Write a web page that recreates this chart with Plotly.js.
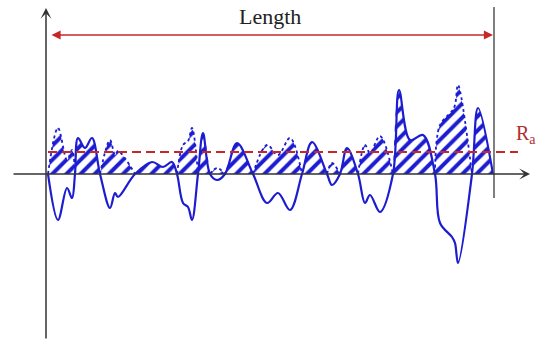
<!DOCTYPE html>
<html>
<head>
<meta charset="utf-8">
<script src="https://cdn.plot.ly/plotly-3.0.1.min.js"></script>
<style>html,body{margin:0;padding:0;background:#fff;}#chart{width:544px;height:343px;}</style>
</head>
<body>
<div id="chart"></div>
<script>
// Profile positions along the sampling length and profile heights (relative to mean line)
const posX = [0,10,19,24,27,30,37,44,52,62,67,70,87,104,115,124,129,135,140,144,150,155,162,169,177,189,205,219,230,242,254,264,279,284,292,299,310,317,322,332,345,351,362,375,387,392,404,407,410,424,430,445];
const height = [0,-46,-14,-24,0,36,26,36,0,-34,-19,-23,0,12,7,12,0,-29,-33,-46,0,41,0,-6,0,31,0,-29,-19,-36,0,32,0,-11,0,26,0,-29,-21,-38,0,84,34,39,0,-49,-63,-69,-89,0,66,0];
const raLevel = 22;          // arithmetic mean roughness level
const lengthStart = 0, lengthEnd = 445;
const labels = {length: 'Length', ra: 'R<sub>a</sub>'};

const BLUE = '#1c1cd0';
const RED = '#c62828';
const AX = '#333333';
const SERIF = '"Liberation Serif", serif';

// split profile into segments between zero crossings
const segs = [];
let cur = [];
for (let i = 0; i < posX.length; i++) {
  cur.push(i);
  if (height[i] === 0 && cur.length > 1) { segs.push(cur); cur = [i]; }
}
const fillX = [], fillY = [], dotX = [], dotY = [];
segs.forEach(s => {
  const neg = s.some(i => height[i] < 0);
  s.forEach(i => { fillX.push(posX[i]); fillY.push(Math.abs(height[i])); });
  fillX.push(null); fillY.push(null);
  if (neg) {
    s.forEach(i => { dotX.push(posX[i]); dotY.push(-height[i]); });
    dotX.push(null); dotY.push(null);
  }
});

const traces = [
  {x: fillX, y: fillY, type: 'scatter', mode: 'lines', fill: 'tozeroy',
   line: {width: 0, shape: 'spline', color: BLUE}, connectgaps: false,
   fillcolor: 'rgba(255,255,255,0)',
   fillpattern: {shape: '/', fgcolor: BLUE, bgcolor: 'rgba(255,255,255,0)', size: 10, solidity: 0.4},
   hoverinfo: 'skip'},
  {x: dotX, y: dotY, type: 'scatter', mode: 'lines', connectgaps: false,
   line: {width: 1.8, shape: 'spline', color: BLUE, dash: 'dot'}, hoverinfo: 'skip'},
  {x: posX, y: height, type: 'scatter', mode: 'lines',
   line: {width: 2.2, shape: 'spline', color: BLUE}, hoverinfo: 'skip'}
];

const layout = {
  width: 544, height: 343,
  margin: {l: 0, r: 0, t: 0, b: 0},
  paper_bgcolor: '#fff', plot_bgcolor: '#fff',
  showlegend: false,
  xaxis: {range: [-48, 496], visible: false, fixedrange: true},
  yaxis: {range: [-169, 174], visible: false, fixedrange: true},
  shapes: [
    // right boundary of sampling length
    {type: 'line', xref: 'x', yref: 'y', x0: lengthEnd + 1, x1: lengthEnd + 1, y0: -24, y1: 167,
     line: {color: '#555', width: 1.5}},
    // Ra dashed line
    {type: 'line', xref: 'x', yref: 'y', x0: lengthStart, x1: 470, y0: raLevel, y1: raLevel,
     line: {color: RED, width: 2, dash: '9px,5px'}}
  ],
  annotations: [
    // vertical axis
    {x: -2, y: 166, ax: -2, ay: -166, xref: 'x', yref: 'y', axref: 'x', ayref: 'y',
     text: '', showarrow: true, arrowhead: 3, arrowsize: 1.2, arrowwidth: 1.5, arrowcolor: AX, standoff: 0},
    // horizontal axis
    {x: 482, y: 0, ax: -36, ay: 0, xref: 'x', yref: 'y', axref: 'x', ayref: 'y',
     text: '', showarrow: true, arrowhead: 3, arrowsize: 1.2, arrowwidth: 1.5, arrowcolor: AX, standoff: 0},
    // length double arrow
    {x: lengthEnd, y: 139, ax: lengthStart + 2, ay: 139, xref: 'x', yref: 'y', axref: 'x', ayref: 'y',
     text: '', showarrow: true, arrowhead: 2, startarrowhead: 2, arrowside: 'end+start',
     arrowsize: 1.4, startarrowsize: 1.4, arrowwidth: 1.3, arrowcolor: RED, standoff: 0, startstandoff: 0},
    {x: 222, y: 158, xref: 'x', yref: 'y', text: labels.length, showarrow: false,
     font: {family: SERIF, size: 22, color: '#222'}},
    {x: 466, y: 40, xref: 'x', yref: 'y', text: labels.ra, showarrow: false, xanchor: 'left',
     font: {family: SERIF, size: 20, color: '#b03030'}}
  ]
};

Plotly.newPlot('chart', traces, layout, {displayModeBar: false, staticPlot: true});
</script>
</body>
</html>
